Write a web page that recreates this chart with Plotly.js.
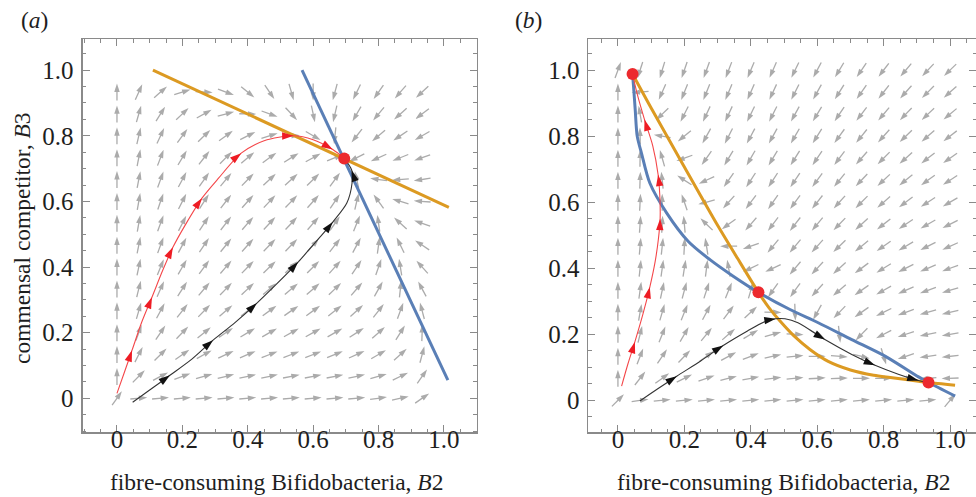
<!DOCTYPE html>
<html><head><meta charset="utf-8">
<script src="https://cdn.plot.ly/plotly-3.0.1.min.js"></script>
<style>html,body{margin:0;padding:0;background:#fff}#chart{width:976px;height:497px}</style>
</head><body><div id="chart"></div>
<script>
// ---------- data ----------
const gridA = [0, 0.0667, 0.1333, 0.2, 0.2667, 0.3333, 0.4, 0.4667, 0.5333, 0.6, 0.6667, 0.7333, 0.8, 0.8667, 0.9333];
const gridB = [0, 0.0667, 0.1333, 0.2, 0.2667, 0.3333, 0.4, 0.4667, 0.5333, 0.6, 0.6667, 0.7333, 0.8, 0.8667, 0.9333, 1.0];

// direction of each grey field arrow (degrees, counter-clockwise from +x), rows bottom -> top
const angleA = [
  [55, 5, 5, 5, 5, 5, 5, 5, 5, 5, 5, 5, 8, 12, 35],
  [90, 45, 28, 20, 16, 14, 12, 12, 11, 11, 11, 12, 16, 26, 55],
  [90, 63, 45, 35, 29, 25, 23, 21, 21, 21, 22, 24, 30, 42, 75],
  [90, 70, 56, 46, 39, 34, 31, 30, 29, 29, 30, 33, 42, 58, 88],
  [90, 74, 62, 52, 46, 41, 38, 36, 35, 36, 38, 42, 52, 70, 105],
  [90, 76, 66, 57, 50, 46, 43, 41, 40, 41, 44, 49, 61, 84, 118],
  [90, 78, 68, 60, 54, 49, 46, 44, 44, 45, 48, 56, 71, 99, 132],
  [90, 79, 70, 62, 56, 51, 48, 46, 46, 48, 52, 62, 82, 116, 146],
  [90, 80, 70, 63, 57, 52, 49, 47, 47, 49, 55, 68, 98, 138, 161],
  [90, 80, 71, 63, 57, 52, 48, 47, 46, 48, 56, 77, 126, 163, 176],
  [90, 79, 70, 62, 55, 50, 46, 43, 42, 44, 54, 103, 172, 185, 189],
  [90, 79, 69, 59, 52, 45, 40, 36, 32, 29, 22, 207, 204, 202, 200],
  [90, 77, 65, 54, 44, 36, 27, 17, 3, -30, -96, 232, 220, 214, 210],
  [90, 74, 58, 43, 29, 15, -1, -20, -47, -78, -103, 240, 230, 222, 217],
  [90, 66, 41, 17, -3, -21, -39, -56, -74, -90, -105, 244, 235, 229, 223]
];
const angleB = [
  [45, 8, 5, 5, 5, 5, 5, 5, 5, 5, 5, 5, 5, 5, 5, 50],
  [90, 52, 36, 26, 19, 14, 10, 7, 5, 3, 2, 1, 0, 0, 185, 182],
  [90, 69, 56, 46, 36, 28, 21, 13, 6, 1, -5, -14, -73, 198, 188, 186],
  [90, 76, 68, 60, 51, 41, 31, 16, -3, -30, -84, 226, 207, 198, 192, 190],
  [90, 80, 74, 68, 62, 53, 43, -1, -88, 241, 226, 215, 206, 200, 196, 193],
  [90, 82, 78, 75, 72, 68, 74, 235, 234, 228, 221, 215, 209, 204, 200, 197],
  [90, 84, 82, 81, 83, 100, 206, 205, 230, 227, 222, 217, 212, 207, 203, 200],
  [90, 85, 84, 87, 99, 180, 200, 230, 230, 228, 224, 219, 215, 211, 207, 204],
  [90, 86, 87, 95, 136, 216, 229, 233, 232, 230, 226, 222, 218, 214, 210, 207],
  [90, 87, 90, 109, 195, 228, 233, 235, 234, 232, 228, 225, 221, 217, 213, 210],
  [90, 88, 96, 147, 205, 235, 237, 237, 236, 234, 231, 227, 223, 219, 216, 213],
  [90, 89, 106, 200, 235, 239, 240, 239, 238, 236, 233, 229, 225, 222, 218, 215],
  [90, 91, 170, 220, 241, 243, 242, 241, 240, 238, 234, 231, 228, 224, 221, 218],
  [90, 100, 224, 243, 245, 245, 244, 243, 241, 239, 236, 233, 230, 226, 223, 220],
  [90, 185, 246, 248, 248, 247, 246, 245, 243, 241, 238, 235, 232, 228, 225, 222],
  [70, 252, 253, 251, 250, 249, 247, 246, 244, 242, 239, 236, 233, 230, 227, 224]
];

// nullclines
const blueAX = [0.566, 1.012];
const blueAY = [1.0, 0.055];
const orangeAX = [0.11, 1.015];
const orangeAY = [1.0, 0.582];
const blueBX = [0.044, 0.047, 0.052, 0.058, 0.071, 0.096, 0.147, 0.212, 0.277, 0.347, 0.423, 0.518, 0.603, 0.704, 0.804, 0.905, 0.935, 1.015];
const blueBY = [0.988, 0.95, 0.88, 0.80, 0.748, 0.658, 0.567, 0.481, 0.426, 0.376, 0.327, 0.275, 0.235, 0.184, 0.134, 0.071, 0.054, 0.013];
const orangeBX = [0.044, 0.1, 0.197, 0.3, 0.36, 0.423, 0.455, 0.488, 0.53, 0.578, 0.633, 0.70, 0.77, 0.82, 0.905, 0.935, 1.015];
const orangeBY = [0.988, 0.885, 0.712, 0.53, 0.43, 0.327, 0.28, 0.24, 0.195, 0.154, 0.118, 0.092, 0.076, 0.069, 0.058, 0.054, 0.046];

// trajectories
const redAX = [0.0, 0.023, 0.046, 0.075, 0.107, 0.14, 0.171, 0.21, 0.26, 0.31, 0.38, 0.45, 0.54, 0.60, 0.66, 0.695];
const redAY = [0.015, 0.08, 0.146, 0.23, 0.308, 0.39, 0.46, 0.53, 0.61, 0.67, 0.747, 0.785, 0.80, 0.788, 0.758, 0.731];
const redAHeadX = [0.046, 0.107, 0.171, 0.26, 0.38, 0.54, 0.66];
const redAHeadY = [0.146, 0.308, 0.46, 0.61, 0.747, 0.80, 0.758];
const blackAX = [0.048, 0.10, 0.162, 0.23, 0.294, 0.36, 0.428, 0.49, 0.554, 0.605, 0.66, 0.703, 0.719, 0.718, 0.695];
const blackAY = [-0.012, 0.025, 0.07, 0.12, 0.177, 0.23, 0.29, 0.35, 0.415, 0.473, 0.537, 0.595, 0.656, 0.695, 0.731];
const blackAHeadX = [0.162, 0.294, 0.428, 0.554, 0.66, 0.718];
const blackAHeadY = [0.07, 0.177, 0.29, 0.415, 0.537, 0.695];

const redBX = [0.011, 0.03, 0.051, 0.075, 0.096, 0.112, 0.122, 0.127, 0.126, 0.121, 0.105, 0.08, 0.06, 0.044];
const redBY = [0.043, 0.11, 0.177, 0.26, 0.343, 0.42, 0.49, 0.55, 0.62, 0.683, 0.77, 0.85, 0.92, 0.988];
const redBHeadX = [0.051, 0.096, 0.127, 0.121, 0.08];
const redBHeadY = [0.177, 0.343, 0.55, 0.683, 0.85];
const blackBX = [0.066, 0.12, 0.177, 0.25, 0.317, 0.39, 0.44, 0.475, 0.503, 0.542, 0.623, 0.704, 0.774, 0.844, 0.905, 0.935];
const blackBY = [-0.002, 0.035, 0.073, 0.12, 0.166, 0.21, 0.237, 0.247, 0.247, 0.235, 0.184, 0.139, 0.106, 0.079, 0.06, 0.054];
const blackBHeadX = [0.177, 0.317, 0.475, 0.623, 0.774, 0.905];
const blackBHeadY = [0.073, 0.166, 0.247, 0.184, 0.106, 0.06];

// fixed points
const fixedAX = [0.695];
const fixedAY = [0.731];
const fixedBX = [0.044, 0.423, 0.935];
const fixedBY = [0.988, 0.327, 0.054];

const tickVals = [0, 0.2, 0.4, 0.6, 0.8, 1.0];
const tickText = ['0', '0.2', '0.4', '0.6', '0.8', '1.0'];

// ---------- layout geometry ----------
const W = 976, H = 497;
const domAX = [0.0850, 0.4887], domBX = [0.6025, 1.0], domY = [0.130, 0.9215];
const rngAX = [-0.104, 1.101], rngAY = [-0.104, 1.095];
const rngBX = [-0.090, 1.078], rngBY = [-0.097, 1.094];
const sAX = (domAX[1]-domAX[0])*W/(rngAX[1]-rngAX[0]);
const sAY = (domY[1]-domY[0])*H/(rngAY[1]-rngAY[0]);
const sBX = (domBX[1]-domBX[0])*W/(rngBX[1]-rngBX[0]);
const sBY = (domY[1]-domY[0])*H/(rngBY[1]-rngBY[0]);

const FIELD_GREY = '#ababab';
const ARROW_LEN = 17, HEAD_LEN = 8;

function fieldTraces(grid, ang, sx, sy, xa, ya) {
  const lx = [], ly = [], hx = [], hy = [], ha = [];
  for (let j = 0; j < ang.length; j++) {
    for (let i = 0; i < ang[j].length; i++) {
      const t = ang[j][i] * Math.PI / 180, c = Math.cos(t), s = Math.sin(t);
      const cx = grid[i], cy = grid[j];
      const tx = cx + (ARROW_LEN/2)*c/sx, ty = cy + (ARROW_LEN/2)*s/sy;
      lx.push(cx - (ARROW_LEN/2)*c/sx, tx - (HEAD_LEN-1)*c/sx, null);
      ly.push(cy - (ARROW_LEN/2)*s/sy, ty - (HEAD_LEN-1)*s/sy, null);
      hx.push(tx); hy.push(ty); ha.push(90 - ang[j][i]);
    }
  }
  return [
    {x: lx, y: ly, xaxis: xa, yaxis: ya, mode: 'lines', line: {color: FIELD_GREY, width: 1.3}, hoverinfo: 'skip'},
    {x: hx, y: hy, xaxis: xa, yaxis: ya, mode: 'markers', hoverinfo: 'skip',
     marker: {symbol: 'arrow', size: 8.8, angle: ha, color: FIELD_GREY, line: {width: 0}}}
  ];
}

function headAngles(hx, hy, px, py, sx, sy) {
  return hx.map((x, k) => {
    let best = 0, bd = 1e9;
    for (let i = 0; i < px.length; i++) {
      const d = (px[i]-x)**2 + (py[i]-hy[k])**2;
      if (d < bd) { bd = d; best = i; }
    }
    const i0 = Math.max(best-1, 0), i1 = Math.min(best+1, px.length-1);
    const dx = (px[i1]-px[i0])*sx, dy = (py[i1]-py[i0])*sy;
    return 90 - Math.atan2(dy, dx)*180/Math.PI;
  });
}

function trajTraces(px, py, hx, hy, lineColor, headColor, sx, sy, xa, ya) {
  return [
    {x: px, y: py, xaxis: xa, yaxis: ya, mode: 'lines', line: {color: lineColor, width: 1.1, shape: 'spline', smoothing: 0.8}, hoverinfo: 'skip'},
    {x: hx, y: hy, xaxis: xa, yaxis: ya, mode: 'markers', hoverinfo: 'skip',
     marker: {symbol: 'arrow', size: 12, angle: headAngles(hx, hy, px, py, sx, sy), color: headColor, line: {width: 0}}}
  ];
}

const BLUE = '#5a7fb6', ORANGE = '#dc9a22', RED = '#ec2a2e';

const traces = [
  ...fieldTraces(gridA, angleA, sAX, sAY, 'x', 'y'),
  ...fieldTraces(gridB, angleB, sBX, sBY, 'x2', 'y2'),
  {x: orangeAX, y: orangeAY, xaxis: 'x', yaxis: 'y', mode: 'lines', line: {color: ORANGE, width: 3}},
  {x: blueAX, y: blueAY, xaxis: 'x', yaxis: 'y', mode: 'lines', line: {color: BLUE, width: 3}},
  {x: blueBX, y: blueBY, xaxis: 'x2', yaxis: 'y2', mode: 'lines', line: {color: BLUE, width: 3, shape: 'spline', smoothing: 0.8}},
  {x: orangeBX, y: orangeBY, xaxis: 'x2', yaxis: 'y2', mode: 'lines', line: {color: ORANGE, width: 3, shape: 'spline', smoothing: 0.8}},
  ...trajTraces(redAX, redAY, redAHeadX, redAHeadY, '#f4474a', '#ee1c24', sAX, sAY, 'x', 'y'),
  ...trajTraces(blackAX, blackAY, blackAHeadX, blackAHeadY, '#333333', '#111111', sAX, sAY, 'x', 'y'),
  ...trajTraces(redBX, redBY, redBHeadX, redBHeadY, '#f4474a', '#ee1c24', sBX, sBY, 'x2', 'y2'),
  ...trajTraces(blackBX, blackBY, blackBHeadX, blackBHeadY, '#333333', '#111111', sBX, sBY, 'x2', 'y2'),
  {x: fixedAX, y: fixedAY, xaxis: 'x', yaxis: 'y', mode: 'markers', marker: {color: RED, size: 12, line: {width: 0}}},
  {x: fixedBX, y: fixedBY, xaxis: 'x2', yaxis: 'y2', mode: 'markers', marker: {color: RED, size: 12, line: {width: 0}}}
];

const SERIF = '"Liberation Serif", "Times New Roman", serif';
const FRAME = '#8a8a8a';
function axis(domain, range, standoff) {
  return {
    domain: domain, range: range, showgrid: false, zeroline: false,
    showline: true, linecolor: FRAME, linewidth: 1.5, mirror: 'allticks',
    ticks: 'inside', ticklen: 7, tickwidth: 1, tickcolor: FRAME,
    tickvals: tickVals, ticktext: tickText, ticklabelstandoff: standoff,
    tickfont: {family: SERIF, size: 25, color: '#1e1e1e'},
    minor: {ticks: 'inside', dtick: 0.05, tick0: 0, ticklen: 3.5, tickwidth: 1, tickcolor: FRAME, showgrid: false},
    fixedrange: true
  };
}

const TITLE_FONT = {family: SERIF, size: 23.5, color: '#1e1e1e'};
const layout = {
  width: W, height: H, margin: {l: 0, r: 0, t: 0, b: 0},
  paper_bgcolor: '#fff', plot_bgcolor: '#fff', showlegend: false,
  xaxis: Object.assign(axis(domAX, rngAX, -16), {anchor: 'y'}),
  yaxis: Object.assign(axis(domY, rngAY, 3), {anchor: 'x'}),
  xaxis2: Object.assign(axis(domBX, rngBX, -16), {anchor: 'y2'}),
  yaxis2: Object.assign(axis(domY, rngBY, 2), {anchor: 'x2'}),
  font: {family: SERIF, color: '#1e1e1e'},
  annotations: [
    {text: '(<i>a</i>)', xref: 'paper', yref: 'paper', x: 0.0355, y: 0.96, xanchor: 'center', yanchor: 'middle', showarrow: false, font: TITLE_FONT},
    {text: '(<i>b</i>)', xref: 'paper', yref: 'paper', x: 0.542, y: 0.96, xanchor: 'center', yanchor: 'middle', showarrow: false, font: TITLE_FONT},
    {text: 'fibre-consuming Bifidobacteria, <i>B</i>2', xref: 'paper', yref: 'paper', x: 0.2838, y: 0.031, xanchor: 'center', yanchor: 'middle', showarrow: false, font: TITLE_FONT},
    {text: 'fibre-consuming Bifidobacteria, <i>B</i>2', xref: 'paper', yref: 'paper', x: 0.8023, y: 0.031, xanchor: 'center', yanchor: 'middle', showarrow: false, font: TITLE_FONT},
    {text: 'commensal competitor, <i>B</i>3', xref: 'paper', yref: 'paper', x: 0.0225, y: 0.521, xanchor: 'center', yanchor: 'middle', textangle: -90, showarrow: false, font: TITLE_FONT}
  ]
};

Plotly.newPlot('chart', traces, layout, {displayModeBar: false, staticPlot: true});
</script>
</body></html>
